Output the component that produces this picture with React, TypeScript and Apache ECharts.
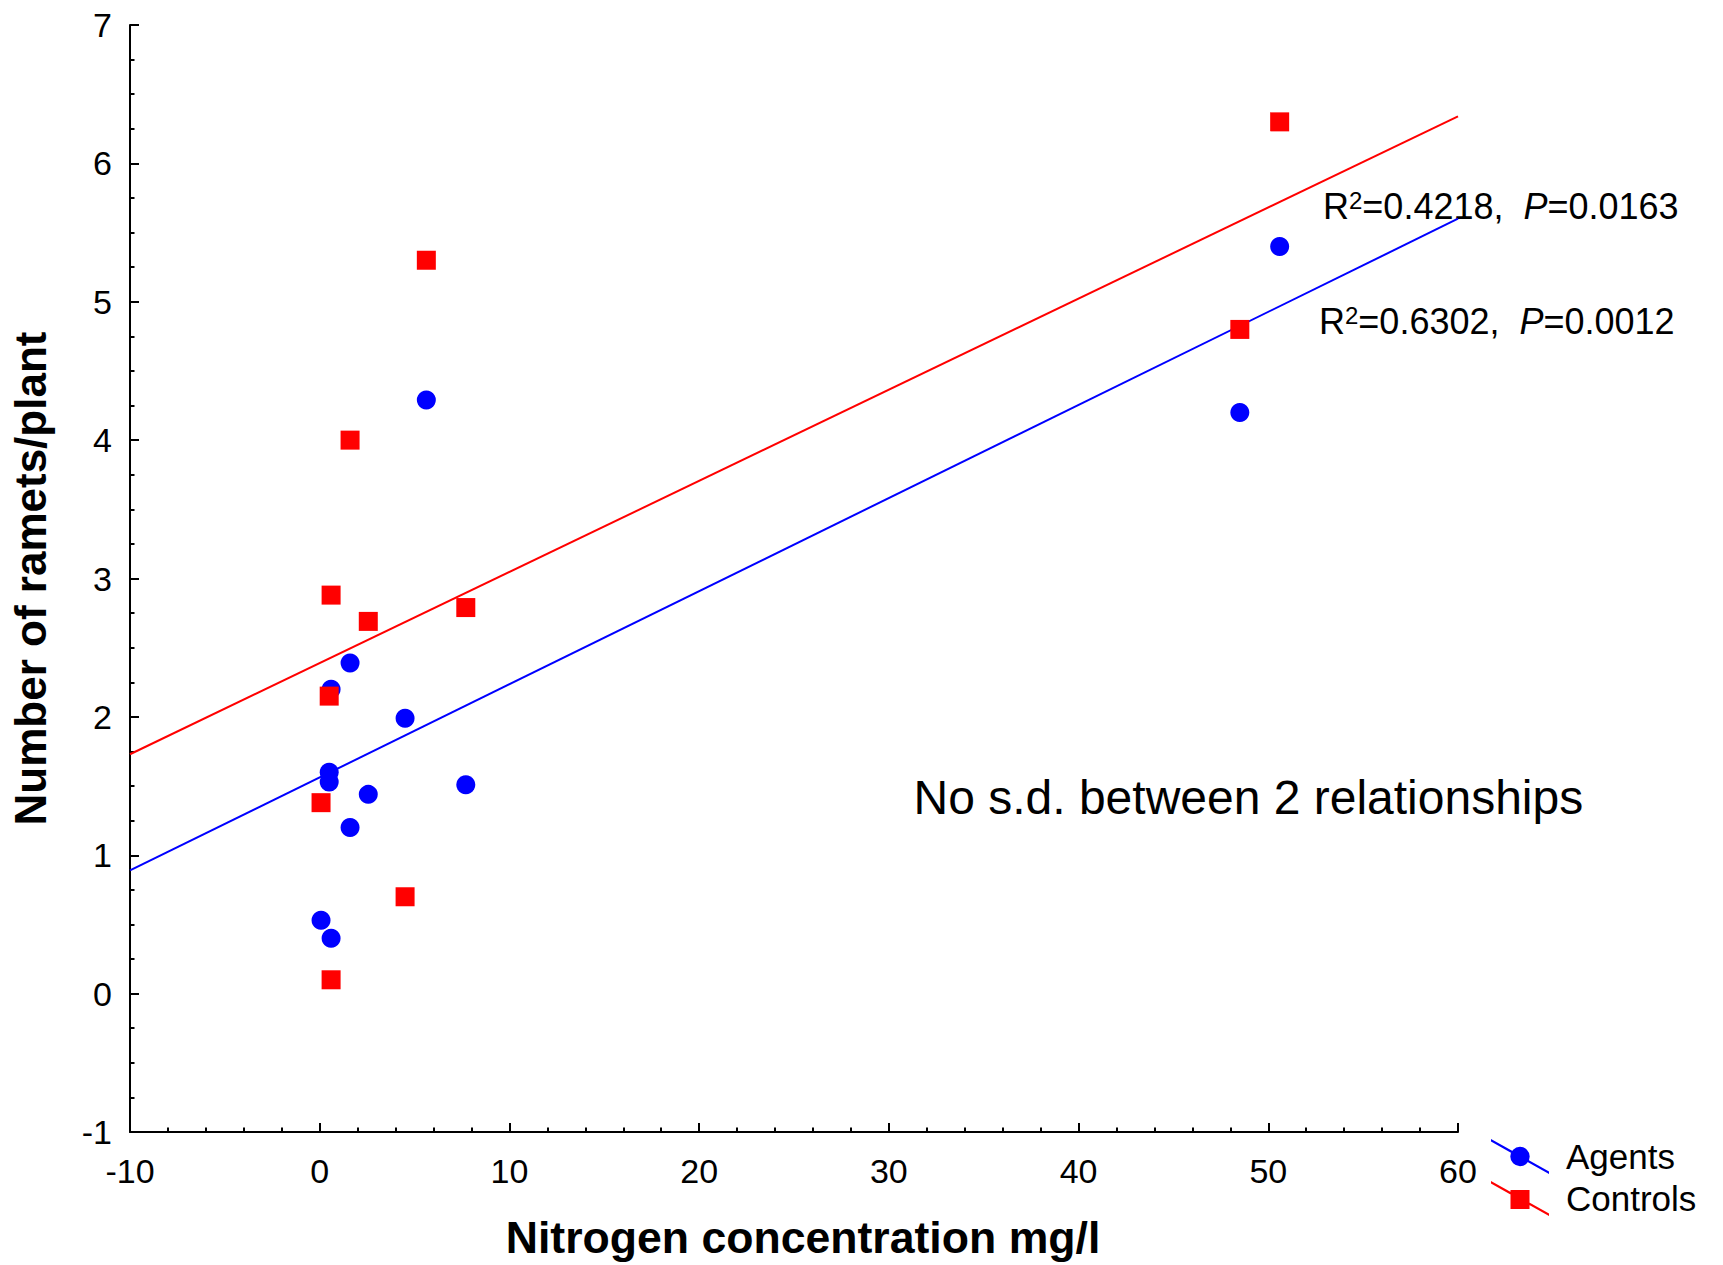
import React, { useEffect, useRef } from "react";
import * as echarts from "echarts";

// ---- data ----
const agentsX = [0.07, 0.6, 0.5, 0.5, 0.6, 1.6, 1.6, 2.56, 4.5, 5.62, 7.7, 48.5, 50.6];
const agentsY = [0.53, 0.4, 1.6, 1.53, 2.2, 2.39, 1.2, 1.44, 1.99, 4.29, 1.51, 4.2, 5.4];
const controlsX = [0.07, 0.6, 0.5, 0.6, 1.6, 2.56, 4.5, 5.62, 7.7, 48.5, 50.6];
const controlsY = [1.38, 0.1, 2.15, 2.88, 4.0, 2.69, 0.7, 5.3, 2.79, 4.8, 6.3];
// fitted regression lines (end points at the axis limits)
const agentsFitX = [-10, 60];
const agentsFitY = [0.89, 5.6];
const controlsFitX = [-10, 60];
const controlsFitY = [1.73, 6.34];

const xTicks = { min: -10, max: 60, interval: 10 };
const yTicks = { min: -1, max: 7, interval: 1 };

const seriesNames = ["Agents", "Controls"];
const statsAgents = { r2: "0.6302", p: "0.0012" };
const statsControls = { r2: "0.4218", p: "0.0163" };
const noteText = "No s.d. between 2 relationships";

const FONT = "'Liberation Sans', Arial, Helvetica, sans-serif";
const BLUE = "#0000ff";
const RED = "#ff0000";

const zip = (xs: number[], ys: number[]) => xs.map((x, i) => [x, ys[i]]);

const agentIcon =
  "path://M0,0 L58,32.4 L58,35 L0,2.6 Z M19.3,17.5 A9.7,9.7 0 1,1 38.7,17.5 A9.7,9.7 0 1,1 19.3,17.5 Z";
const controlIcon =
  "path://M0,0 L58,32.4 L58,35 L0,2.6 Z M19.5,9 L38.5,9 L38.5,28 L19.5,28 Z";

const statRich = {
  n: { fontSize: 36, fontFamily: FONT, color: "#000" },
  s: { fontSize: 24, fontFamily: FONT, color: "#000", verticalAlign: "top" },
  i: { fontSize: 36, fontFamily: FONT, color: "#000", fontStyle: "italic" },
};

const statText = (st: { r2: string; p: string }) =>
  `{n|R}{s|2}{n|=${st.r2},  }{i|P}{n|=${st.p}}`;

export default function App() {
  const ref = useRef<HTMLDivElement>(null);

  useEffect(() => {
    if (!ref.current) return;
    const chart = echarts.init(ref.current, undefined, { renderer: "svg" });

    const axisCommon = {
      type: "value",
      axisLine: { show: true, onZero: false, lineStyle: { color: "#000", width: 2 } },
      axisTick: { show: true, inside: true, length: 9, lineStyle: { color: "#000", width: 2 } },
      minorTick: { show: true, length: 4.5, lineStyle: { color: "#000", width: 2 } },
      splitLine: { show: false },
      axisLabel: { color: "#000", fontSize: 34, fontFamily: FONT },
      nameLocation: "middle",
      nameTextStyle: { color: "#000", fontSize: 44, fontWeight: "bold", fontFamily: FONT },
    };

    const option: any = {
      animation: false,
      backgroundColor: "#fff",
      textStyle: { fontFamily: FONT },
      grid: { left: 130, right: 265, top: 25, bottom: 124, containLabel: false },
      xAxis: {
        ...axisCommon,
        min: xTicks.min,
        max: xTicks.max,
        interval: xTicks.interval,
        minorTick: { ...axisCommon.minorTick, splitNumber: 5 },
        axisLabel: { ...axisCommon.axisLabel, margin: 22 },
        name: "Nitrogen concentration mg/l",
        nameGap: 83,
        nameTextStyle: { ...axisCommon.nameTextStyle, fontSize: 44.6, padding: [0, 0, 0, 18] },
      },
      yAxis: {
        ...axisCommon,
        min: yTicks.min,
        max: yTicks.max,
        interval: yTicks.interval,
        minorTick: { ...axisCommon.minorTick, splitNumber: 4 },
        axisLabel: { ...axisCommon.axisLabel, margin: 18 },
        name: "Number of ramets/plant",
        nameRotate: 90,
        nameGap: 78,
      },
      legend: {
        data: [
          { name: seriesNames[0], icon: agentIcon },
          { name: seriesNames[1], icon: controlIcon },
        ],
        orient: "vertical",
        left: 1491,
        top: 1139,
        itemWidth: 58,
        itemHeight: 35,
        itemGap: 7,
        padding: 0,
        selectedMode: false,
        textStyle: { fontSize: 35, color: "#000", fontFamily: FONT, padding: [0, 0, 0, 12] },
      },
      series: [
        {
          name: "Agents fit",
          type: "line",
          data: zip(agentsFitX, agentsFitY),
          symbol: "none",
          silent: true,
          lineStyle: { color: BLUE, width: 2 },
          itemStyle: { color: BLUE },
          z: 1,
        },
        {
          name: "Controls fit",
          type: "line",
          data: zip(controlsFitX, controlsFitY),
          symbol: "none",
          silent: true,
          lineStyle: { color: RED, width: 2 },
          itemStyle: { color: RED },
          z: 1,
        },
        {
          name: seriesNames[0],
          type: "scatter",
          data: zip(agentsX, agentsY),
          symbol: "circle",
          symbolSize: 19,
          itemStyle: { color: BLUE, opacity: 1 },
          z: 3,
        },
        {
          name: seriesNames[1],
          type: "scatter",
          data: zip(controlsX, controlsY),
          symbol: "rect",
          symbolSize: 19,
          itemStyle: { color: RED, opacity: 1 },
          z: 4,
        },
      ],
      graphic: [
        {
          type: "text",
          x: 1323,
          y: 206.6,
          style: {
            text: statText(statsControls),
            rich: statRich,
            align: "left",
            verticalAlign: "middle",
            font: `36px ${FONT}`,
            fill: "#000",
          },
        },
        {
          type: "text",
          x: 1319,
          y: 321.6,
          style: {
            text: statText(statsAgents),
            rich: statRich,
            align: "left",
            verticalAlign: "middle",
            font: `36px ${FONT}`,
            fill: "#000",
          },
        },
        {
          type: "text",
          x: 913.5,
          y: 797,
          style: {
            text: noteText,
            align: "left",
            verticalAlign: "middle",
            font: `48px ${FONT}`,
            fill: "#000",
          },
        },
      ],
    };

    chart.setOption(option);
    return () => chart.dispose();
  }, []);

  return (
    <div
      ref={ref}
      style={{ position: "fixed", left: 0, top: 0, width: 1723, height: 1265, background: "#fff" }}
    />
  );
}
